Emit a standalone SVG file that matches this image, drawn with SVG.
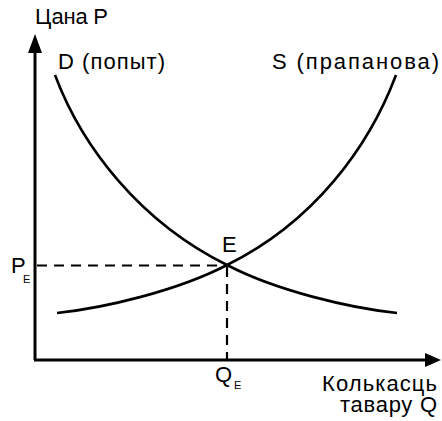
<svg xmlns="http://www.w3.org/2000/svg" width="442" height="421" viewBox="0 0 442 421">
<style>
text{font-family:"Liberation Sans",Arial,sans-serif;fill:#000}
.lbl{font-size:22px}
.sub{font-size:11px}
.axis{stroke:#000;stroke-width:3;fill:none}
.curve{stroke:#000;stroke-width:2.6;fill:none}
.dash{stroke:#000;stroke-width:2.2;fill:none;stroke-dasharray:10 7}
</style>
<rect width="442" height="421" fill="#fff"/>
<g id="connectors">
<path class="axis" d="M35,360 V50"/>
<path class="axis" d="M34,360 H428"/>
<polygon points="35,34 28,53 42,53" fill="#000"/>
<polygon points="441,360 425,353 425,367" fill="#000"/>
<path class="dash" d="M37,265.5 H227"/>
<path class="dash" d="M227,267 V359"/>
</g>
<g id="demand">
<path class="curve" d="M55,75 C82,147 140,222 227,265 C277,291 350,308 397,313"/>
<text class="lbl" x="58" y="69" textLength="107" lengthAdjust="spacing">D (попыт)</text>
</g>
<g id="supply">
<path class="curve" d="M396,75 C369,147 314,222 227,265 C177,291 104,308 57,313"/>
<text class="lbl" x="272" y="69" textLength="167" lengthAdjust="spacing">S (прапанова)</text>
</g>
<g id="equilibrium">
<text class="lbl" x="222" y="252">E</text>
</g>
<g id="price-label">
<text class="lbl" x="35" y="24" textLength="73" lengthAdjust="spacing">Цана P</text>
<text class="lbl" x="11" y="273">P</text>
<text class="sub" x="23" y="283">E</text>
</g>
<g id="quantity-label">
<text class="lbl" x="215" y="382">Q</text>
<text class="sub" x="234" y="389">E</text>
<text class="lbl" x="322" y="391" textLength="115" lengthAdjust="spacing">Колькасць</text>
<text class="lbl" x="340" y="412" textLength="97" lengthAdjust="spacing">тавару Q</text>
</g>
</svg>
